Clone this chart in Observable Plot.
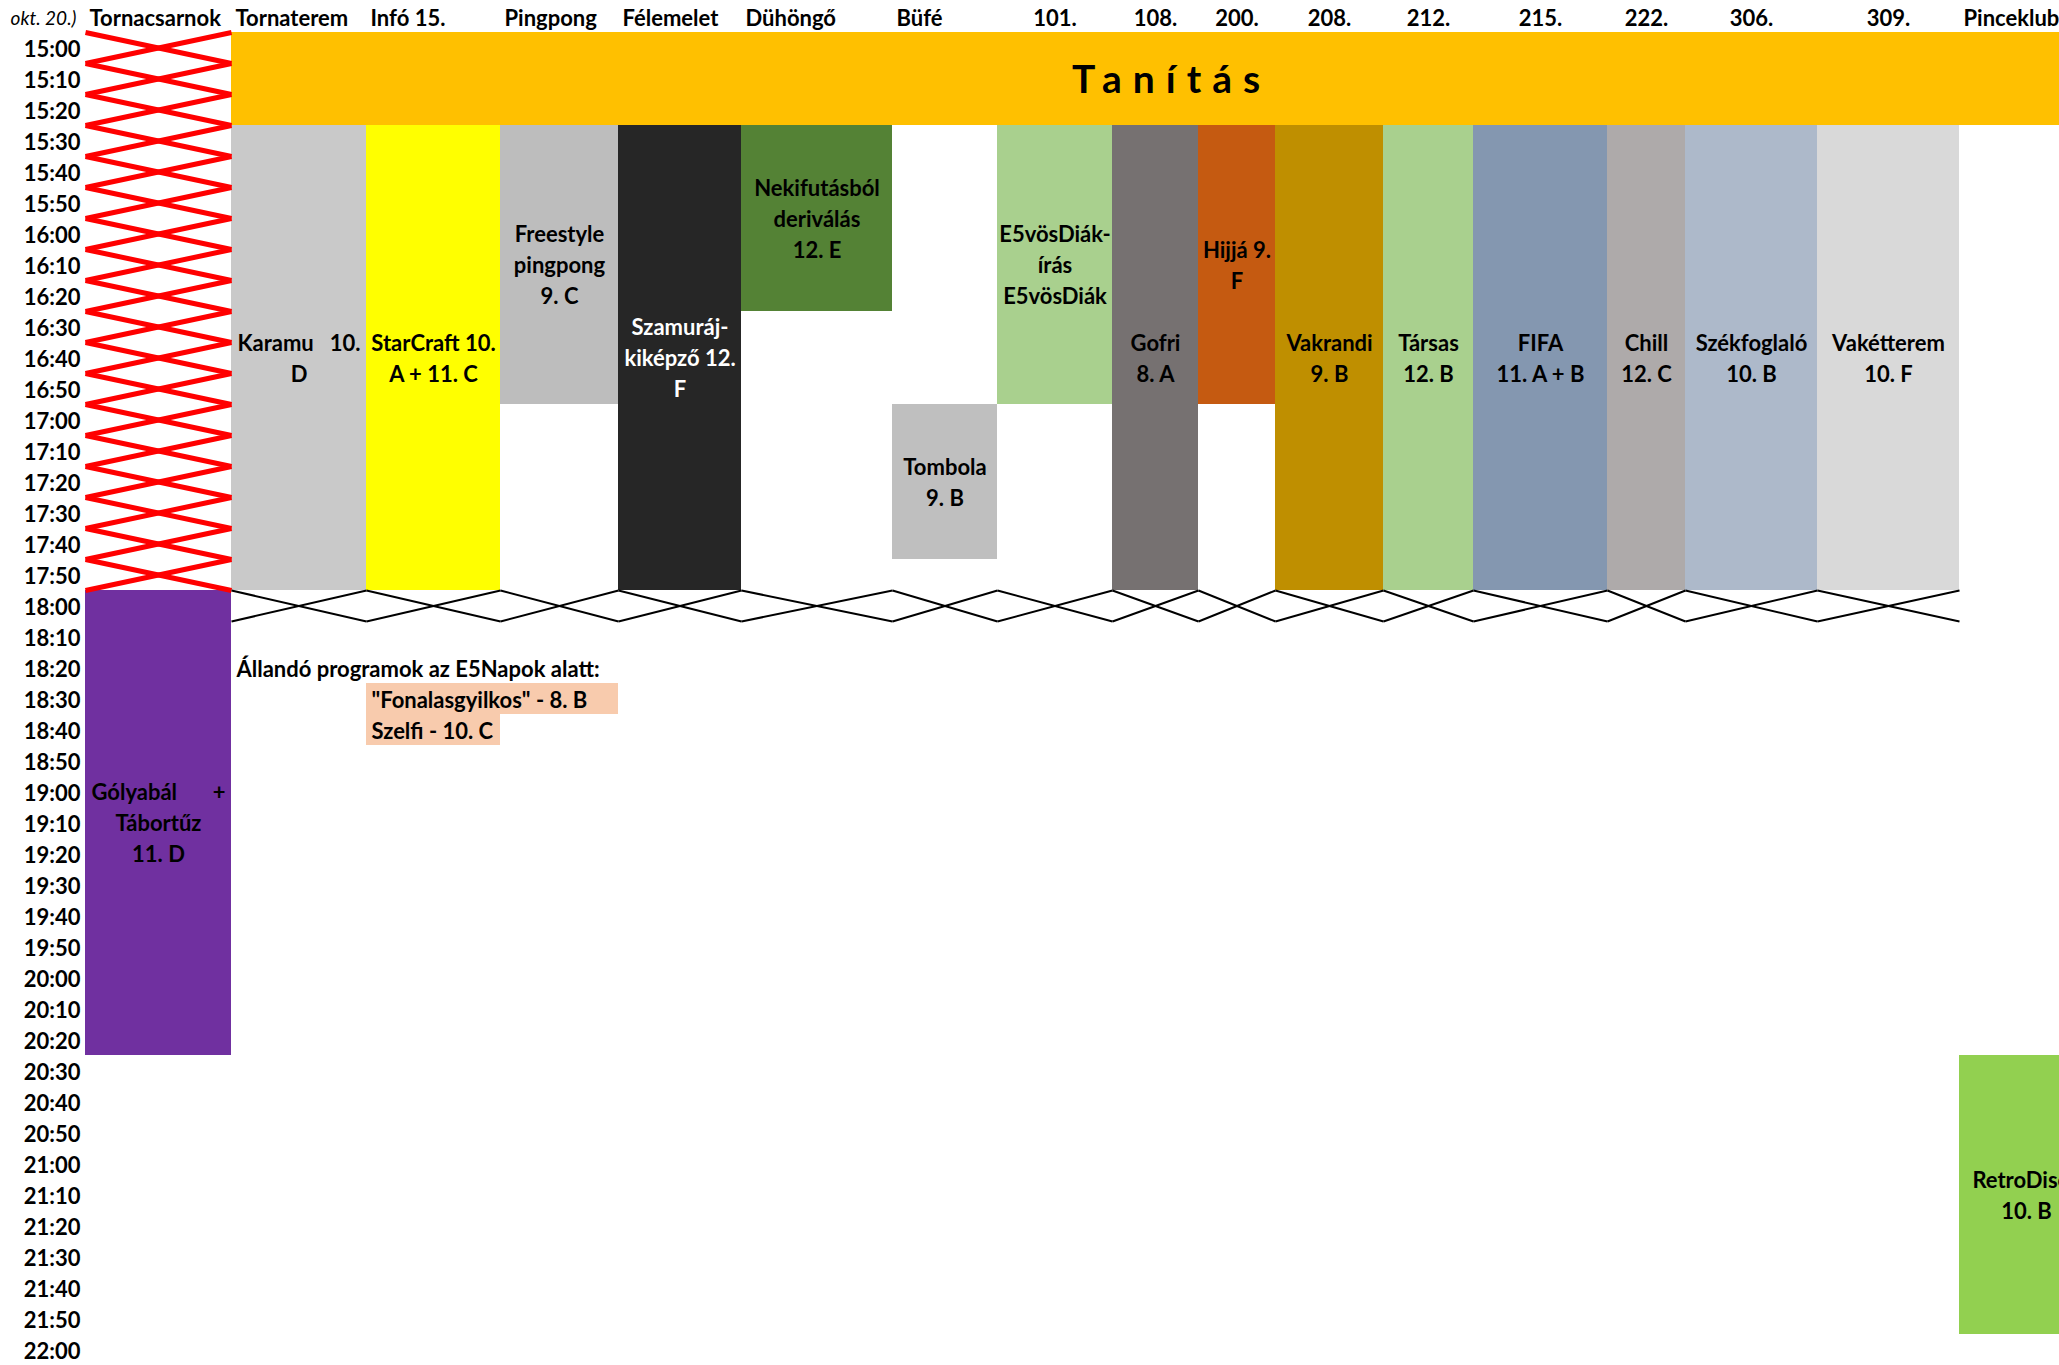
<!DOCTYPE html>
<html><head><meta charset="utf-8">
<script src="https://cdn.jsdelivr.net/npm/d3@7"></script>
<script src="https://cdn.jsdelivr.net/npm/@observablehq/plot@0.6"></script>
<style>
html,body{margin:0;padding:0;background:#fff;}
#chart svg{display:block;}
</style>
</head><body><div id="chart"></div>
<script>
// ---------------- data ----------------
const dateLabel = "okt. 20.)";
const rooms = ["Tornacsarnok","Tornaterem","Infó 15.","Pingpong","Félemelet","Dühöngő","Büfé","101.","108.","200.","208.","212.","215.","222.","306.","309.","Pinceklub"];
const timeLabels = ["15:00","15:10","15:20","15:30","15:40","15:50","16:00","16:10","16:20","16:30","16:40","16:50",
  "17:00","17:10","17:20","17:30","17:40","17:50","18:00","18:10","18:20","18:30","18:40","18:50",
  "19:00","19:10","19:20","19:30","19:40","19:50","20:00","20:10","20:20","20:30","20:40","20:50",
  "21:00","21:10","21:20","21:30","21:40","21:50","22:00"];

const bannerText = "Tanítás";
const bannerRooms = ["Tornaterem","Pinceklub"];
const bannerTimes = ["15:00","15:30"];

const eventRooms  = ["Tornaterem","Infó 15.","Pingpong","Félemelet","Dühöngő","Büfé","101.","108.","200.","208.","212.","215.","222.","306.","309.","Tornacsarnok","Pinceklub"];
const eventStarts = ["15:30","15:30","15:30","15:30","15:30","17:00","15:30","15:30","15:30","15:30","15:30","15:30","15:30","15:30","15:30","18:00","20:30"];
const eventEnds   = ["18:00","18:00","17:00","18:00","16:30","17:50","17:00","18:00","17:00","18:00","18:00","18:00","18:00","18:00","18:00","20:30","22:00"];
const eventLabels = [
  "Karamu|10.\nD",
  "StarCraft 10.\nA + 11. C",
  "Freestyle\npingpong\n9. C",
  "Szamuráj-\nkiképző 12.\nF",
  "Nekifutásból\nderiválás\n12. E",
  "Tombola\n9. B",
  "E5vösDiák-\nírás\nE5vösDiák",
  "Gofri\n8. A",
  "Hijjá 9.\nF",
  "Vakrandi\n9. B",
  "Társas\n12. B",
  "FIFA\n11. A + B",
  "Chill\n12. C",
  "Székfoglaló\n10. B",
  "Vakétterem\n10. F",
  "Gólyabál|+\nTábortűz\n11. D",
  "RetroDisco\n10. B"
];

const closedRedRooms = ["Tornacsarnok"];
const closedRedTimes = ["15:00","18:00"];
const closedBlackRooms = ["Tornaterem","Infó 15.","Pingpong","Félemelet","Dühöngő","Büfé","101.","108.","200.","208.","212.","215.","222.","306.","309."];
const closedBlackTimes = ["18:00","18:10"];

const noteTitle = "Állandó programok az E5Napok alatt:";
const noteTitleRoom = "Tornaterem";
const noteTitleTime = "18:20";
const noteTexts = ["\"Fonalasgyilkos\" - 8. B", "Szelfi - 10. C"];
const noteRoomsFrom = ["Infó 15.","Infó 15."];
const noteRoomsTo = ["Pingpong","Infó 15."];
const noteTimes = ["18:30","18:40"];

// ---------------- styles / layout ----------------
const eventColors = ["#C9C9C9","#FFFF00","#BDBDBD","#262626","#548235","#BFBFBF","#A9D08E","#767171","#C55A11","#BF8F00","#A9D08E","#8497B0","#AEAAAA","#ADB9CA","#D9D9D9","#7030A0","#92D050"];
const bannerColor = "#FFC000";
const noteColor = "#F8CBAD";
const labelColWidth = 85;
const colWidths = [146,135,134,118,123,151,105,115,86,77,108,90,134,78,132,142,134];
const FONT = "Lato, 'Open Sans', sans-serif";

// ---------------- build ----------------
const edges = [labelColWidth];
colWidths.forEach(w => edges.push(edges[edges.length - 1] + w));
const edgeIdx = edges.map((_, i) => i);
const pixToIdx = d3.scaleLinear(edges, edgeIdx);
const spanMid = (a, b) => pixToIdx((edges[a] + edges[b]) / 2); // centre of a multi-column span
const toMin = s => { const [h, m] = s.split(":").map(Number); return h * 60 + m; };
const ri = name => rooms.indexOf(name);
const slot = toMin(timeLabels[1]) - toMin(timeLabels[0]);

const events = eventRooms.map((r, i) => ({
  x1: ri(r), x2: ri(r) + 1,
  y1: toMin(eventStarts[i]), y2: toMin(eventEnds[i]),
  fill: eventColors[i], label: eventLabels[i]
}));

const lines = [];
events.forEach(e => {
  const parts = e.label.split("\n");
  const n = parts.length, mid = (e.y1 + e.y2) / 2;
  const ink = d3.hsl(e.fill).l < 0.3 ? "white" : "black";
  parts.forEach((p, k) => {
    const y = mid + (k - (n - 1) / 2) * slot;
    if (p.includes("|")) {
      const [a, b] = p.split("|");
      lines.push({x: e.x1, y, text: a, anchor: "start", ink});
      lines.push({x: e.x2, y, text: b, anchor: "end", ink});
    } else {
      lines.push({x: spanMid(e.x1, e.x2), y, text: p, anchor: "middle", ink});
    }
  });
});

function crosses(roomList, times) {
  const out = [];
  const t0 = toMin(times[0]), t1 = toMin(times[1]);
  roomList.forEach(r => {
    const i = ri(r);
    for (let t = t0; t < t1; t += slot) {
      out.push({x1: i, y1: t, x2: i + 1, y2: t + slot});
      out.push({x1: i, y1: t + slot, x2: i + 1, y2: t});
    }
  });
  return out;
}
const redX = crosses(closedRedRooms, closedRedTimes);
const blackX = crosses(closedBlackRooms, closedBlackTimes);

const banner = [{x1: ri(bannerRooms[0]), x2: ri(bannerRooms[1]) + 1, y1: toMin(bannerTimes[0]), y2: toMin(bannerTimes[1]), text: bannerText}];

const notes = noteTexts.map((t, i) => ({
  x1: ri(noteRoomsFrom[i]), x2: ri(noteRoomsTo[i]) + 1,
  y1: toMin(noteTimes[i]), y2: toMin(noteTimes[i]) + slot, text: t
}));

const tickVals = timeLabels.map(s => toMin(s) + slot / 2);
const labelByVal = new Map(timeLabels.map(s => [toMin(s) + slot / 2, s]));
const tickFormat = v => labelByVal.get(v);
const isNumeric = s => /^\d/.test(s);

const hasAxisMark = typeof Plot.axisY === "function";
const yOpts = {type: "linear", domain: [toMin(timeLabels[0]), toMin(timeLabels[timeLabels.length - 1]) + slot], reverse: true};
if (!hasAxisMark) Object.assign(yOpts, {ticks: tickVals, tickFormat, tickSize: 0, tickPadding: 5, label: null});
const axisMarks = hasAxisMark ? [Plot.axisY({ticks: tickVals, tickFormat, tickSize: 0, tickPadding: 5, dy: 2, label: null})] : [];

const chart = Plot.plot({
  width: 2059, height: 1365,
  marginLeft: labelColWidth, marginRight: 0, marginTop: 32, marginBottom: 0,
  style: {fontFamily: FONT, fontSize: "22px", fontWeight: "bold", background: "white", color: "black"},
  x: {type: "linear", domain: edgeIdx, range: edges, axis: null},
  y: yOpts,
  marks: [
    ...axisMarks,
    Plot.rect(banner, {x1: "x1", x2: "x2", y1: "y1", y2: "y2", fill: bannerColor}),
    Plot.rect(events, {x1: "x1", x2: "x2", y1: "y1", y2: "y2", fill: "fill"}),
    Plot.rect(notes, {x1: "x1", x2: "x2", y1: "y1", y2: "y2", fill: noteColor}),
    Plot.link(redX, {x1: "x1", y1: "y1", x2: "x2", y2: "y2", stroke: "#FF0000", strokeWidth: 5}),
    Plot.link(blackX, {x1: "x1", y1: "y1", x2: "x2", y2: "y2", stroke: "black", strokeWidth: 2}),
    Plot.text(banner, {x: d => spanMid(d.x1, d.x2), y: d => (d.y1 + d.y2) / 2, text: "text", fontSize: 39, dx: 9, dy: 2}),
    Plot.text(lines.filter(d => d.anchor === "middle"), {x: "x", y: "y", text: "text", fill: "ink", textAnchor: "middle", dy: 1}),
    Plot.text(lines.filter(d => d.anchor === "start"), {x: "x", y: "y", text: "text", fill: "ink", textAnchor: "start", dx: 6, dy: 1}),
    Plot.text(lines.filter(d => d.anchor === "end"), {x: "x", y: "y", text: "text", fill: "ink", textAnchor: "end", dx: -6, dy: 1}),
    Plot.text([noteTitle], {x: ri(noteTitleRoom), y: toMin(noteTitleTime) + slot / 2, text: d => d, textAnchor: "start", dx: 5, dy: 2}),
    Plot.text(notes, {x: "x1", y: d => (d.y1 + d.y2) / 2, text: "text", textAnchor: "start", dx: 5, dy: 2}),
    Plot.text(rooms.filter(d => !isNumeric(d)), {x: d => ri(d), text: d => d, frameAnchor: "top", lineAnchor: "middle", dy: -14, dx: 4, textAnchor: "start"}),
    Plot.text(rooms.filter(isNumeric), {x: d => ri(d) + 0.5, text: d => d, frameAnchor: "top", lineAnchor: "middle", dy: -14, textAnchor: "middle"}),
    Plot.text([dateLabel], {text: d => d, frameAnchor: "top-left", lineAnchor: "middle", textAnchor: "end", dx: -9, dy: -14, fontStyle: "italic", fontWeight: "normal", fontSize: 19})
  ]
});

d3.select(chart).selectAll("text").filter(function () { return this.textContent === bannerText; })
  .attr("letter-spacing", "11px");
document.getElementById("chart").appendChild(chart);
</script>
</body></html>
